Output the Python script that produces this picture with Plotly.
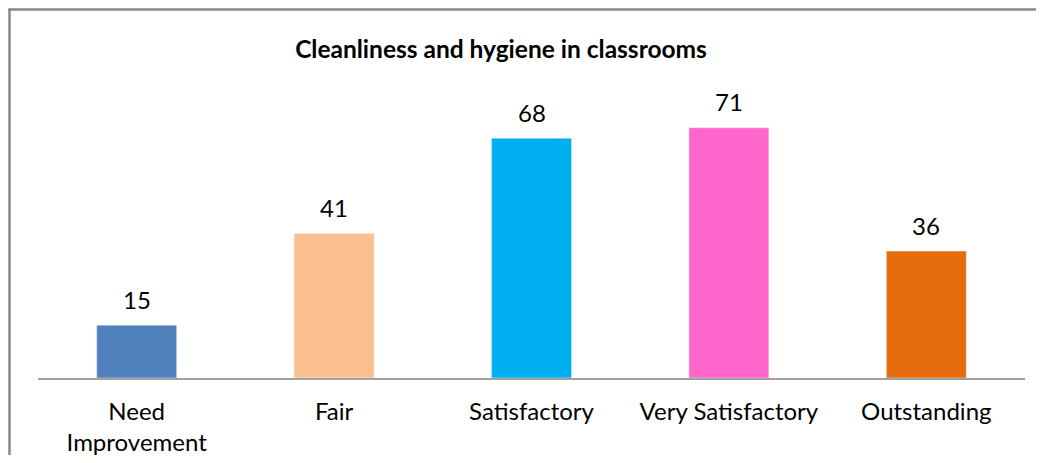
import plotly.graph_objects as go

categories = ["Need<br>Improvement", "Fair", "Satisfactory", "Very Satisfactory", "Outstanding"]
values = [15, 41, 68, 71, 36]
colors = ["#4F81BD", "#FAC090", "#00B0F0", "#FF66CC", "#E46C0A"]

OFF = 8  # default body margin of the html page
W, H = 1028, 447
L, R, T, B = 30, 11, 88, 77
pw, ph = W - L - R, H - T - B
FONT = "Lato"

def fx(page_x):
    return (page_x - OFF - L) / pw

def fy(page_y):
    return (H - B - (page_y - OFF)) / ph

fig = go.Figure(go.Bar(
    x=categories, y=values, marker_color=colors, width=0.405,
    hoverinfo="x+y",
))

for c, v in zip(categories, values):
    fig.add_annotation(x=c, y=v, text=str(v), showarrow=False,
                       yanchor="middle", yshift=26,
                       font=dict(family=FONT, size=24, color="#000000"))

border = dict(color="#888888", width=2.5)
fig.add_shape(type="line", xref="paper", yref="paper",
              x0=fx(9.5), x1=fx(9.5), y0=fy(8.5), y1=fy(470), line=border)
fig.add_shape(type="line", xref="paper", yref="paper",
              x0=fx(8.5), x1=fx(1100), y0=fy(9.5), y1=fy(9.5), line=border)

fig.update_layout(
    width=W, height=H,
    margin=dict(l=L, r=R, t=T, b=B, autoexpand=False),
    paper_bgcolor="white", plot_bgcolor="white",
    showlegend=False,
    title=dict(text="<b>Cleanliness and hygiene in classrooms</b>",
               x=fx(501), xref="paper", xanchor="center",
               y=1 - (49 - OFF) / H, yanchor="middle",
               font=dict(family=FONT, size=24.5, color="#000000")),
    xaxis=dict(showline=True, linecolor="#A0A0A0", linewidth=1.5, showgrid=False,
               ticks="", ticklabelstandoff=11, automargin=False,
               tickfont=dict(family=FONT, size=24, color="#000000")),
    yaxis=dict(range=[0, 80], visible=False, automargin=False),
)

fig.write_html("out.html")
